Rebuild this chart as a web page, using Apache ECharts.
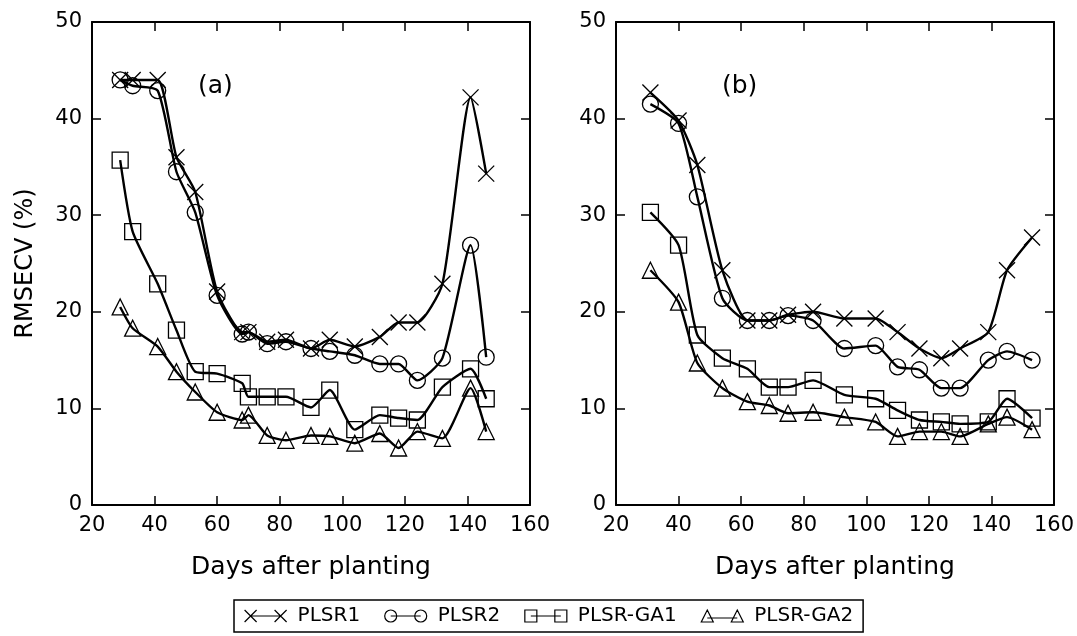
<!DOCTYPE html>
<html>
<head>
<meta charset="utf-8">
<script src="https://cdn.jsdelivr.net/npm/echarts@6/dist/echarts.min.js"></script>
<style>
  html, body { margin: 0; padding: 0; background: #fff; }
  #chart { width: 1077px; height: 636px; }
</style>
</head>
<body>
<div id="chart"></div>
<script>
// 数据 (a)
const daysA = [29, 33, 41, 47, 53, 60, 68, 70, 76, 82, 90, 96, 104, 112, 118, 124, 132, 141, 146];
const aPLSR1 = [44.0, 44.0, 44.0, 36.0, 32.4, 22.1, 17.9, 17.9, 16.9, 17.1, 16.2, 17.1, 16.4, 17.4, 18.9, 18.9, 22.9, 42.2, 34.3];
const aPLSR2 = [44.0, 43.4, 42.9, 34.5, 30.3, 21.7, 17.7, 17.9, 16.7, 16.9, 16.2, 15.9, 15.5, 14.6, 14.6, 12.9, 15.2, 26.9, 15.3];
const aGA1 = [35.7, 28.3, 22.9, 18.1, 13.8, 13.6, 12.6, 11.2, 11.2, 11.2, 10.1, 11.9, 7.8, 9.3, 9.0, 8.8, 12.2, 14.1, 11.0];
const aGA2 = [20.5, 18.3, 16.4, 13.8, 11.7, 9.6, 8.8, 9.3, 7.2, 6.7, 7.2, 7.1, 6.4, 7.4, 5.9, 7.6, 6.9, 12.1, 7.6];

// 数据 (b)
const daysB = [31, 40, 46, 54, 62, 69, 75, 83, 93, 103, 110, 117, 124, 130, 139, 145, 153];
const bPLSR1 = [42.7, 39.8, 35.2, 24.3, 19.1, 19.1, 19.7, 20.0, 19.3, 19.3, 17.9, 16.2, 15.2, 16.2, 17.9, 24.3, 27.7];
const bPLSR2 = [41.5, 39.5, 31.9, 21.4, 19.1, 19.1, 19.6, 19.1, 16.2, 16.5, 14.3, 14.0, 12.1, 12.1, 15.0, 15.9, 15.0];
const bGA1 = [30.3, 26.9, 17.6, 15.2, 14.1, 12.2, 12.2, 12.9, 11.4, 11.0, 9.8, 8.8, 8.6, 8.4, 8.6, 11.0, 9.0];
const bGA2 = [24.3, 21.0, 14.7, 12.1, 10.7, 10.3, 9.5, 9.6, 9.1, 8.6, 7.1, 7.6, 7.6, 7.1, 8.4, 9.1, 7.8];

const seriesNames = ["PLSR1", "PLSR2", "PLSR-GA1", "PLSR-GA2"];
const xTicks = { min: 20, max: 160, interval: 20 };
const yTicks = { min: 0, max: 50, interval: 10 };

const FONT = "DejaVu Sans";
const symbols = [
    "path://M0,0L10,10M0,10L10,0",
    "circle",
    "rect",
    "triangle",
];
// 图例图标: 两个标记 + 连线
const legendIcons = [
    "path://M0,0L12,12M0,12L12,0M6,6L36,6M30,0L42,12M30,12L42,0",
    "path://M0,6A6,6 0 1 1 12,6A6,6 0 1 1 0,6ZM6,6L36,6M30,6A6,6 0 1 1 42,6A6,6 0 1 1 30,6Z",
    "path://M0,0L12,0L12,12L0,12ZM6,6L36,6M30,0L42,0L42,12L30,12Z",
    "path://M6,0L12,12L0,12ZM6,8L36,8M36,0L42,12L30,12Z",
];

const grids = [
    { left: 92, right: 547, top: 22, bottom: 131 },
    { left: 616, right: 23, top: 22, bottom: 131 },
];

const makeXAxis = (gridIndex, primary) => ({
    type: "value",
    gridIndex: gridIndex,
    position: primary ? "bottom" : "top",
    min: xTicks.min,
    max: xTicks.max,
    interval: xTicks.interval,
    name: primary ? "Days after planting" : "",
    nameLocation: "middle",
    nameGap: 50,
    nameTextStyle: { fontFamily: FONT, fontSize: 25, color: "#000" },
    axisLine: { show: true, onZero: false, lineStyle: { color: "#000", width: 2 } },
    axisTick: { show: true, inside: true, length: 9, lineStyle: { color: "#000", width: 1.5 } },
    axisLabel: { show: primary, fontFamily: FONT, fontSize: 21, color: "#000", margin: 10 },
    splitLine: { show: false },
});
const makeYAxis = (gridIndex, primary, withName) => ({
    type: "value",
    gridIndex: gridIndex,
    position: primary ? "left" : "right",
    min: yTicks.min,
    max: yTicks.max,
    interval: yTicks.interval,
    name: withName ? "RMSECV (%)" : "",
    nameLocation: "middle",
    nameGap: 54,
    nameTextStyle: { fontFamily: FONT, fontSize: 24, color: "#000" },
    axisLine: { show: true, onZero: false, lineStyle: { color: "#000", width: 2 } },
    axisTick: { show: true, inside: true, length: 9, lineStyle: { color: "#000", width: 1.5 } },
    axisLabel: { show: primary, fontFamily: FONT, fontSize: 21, color: "#000", margin: 10 },
    splitLine: { show: false },
});

const zip = (xs, ys) => xs.map((x, i) => [x, ys[i]]);

const makeSeries = (name, idx, days, values, axisIndex) => ({
    name: name,
    type: "line",
    xAxisIndex: axisIndex,
    yAxisIndex: axisIndex,
    data: zip(days, values),
    smooth: 0.2,
    symbol: symbols[idx],
    symbolSize: 16,
    showAllSymbol: true,
    lineStyle: { color: "#000", width: 2.4 },
    itemStyle: { color: "rgba(0,0,0,0)", borderColor: "#000", borderWidth: 1.3 },
    emphasis: { disabled: true },
    z: 3,
});

const dataA = [aPLSR1, aPLSR2, aGA1, aGA2];
const dataB = [bPLSR1, bPLSR2, bGA1, bGA2];

let series = [];
seriesNames.forEach((n, i) => series.push(makeSeries(n, i, daysA, dataA[i], 0)));
seriesNames.forEach((n, i) => series.push(makeSeries(n, i, daysB, dataB[i], 2)));

const chart = echarts.init(document.getElementById("chart"), null, { renderer: "canvas" });
chart.setOption({
    animation: false,
    backgroundColor: "#fff",
    grid: grids,
    xAxis: [makeXAxis(0, true), makeXAxis(0, false), makeXAxis(1, true), makeXAxis(1, false)],
    yAxis: [makeYAxis(0, true, true), makeYAxis(0, false, false), makeYAxis(1, true, false), makeYAxis(1, false, false)],
    legend: {
        data: seriesNames.map((n, i) => ({ name: n, icon: legendIcons[i] })),
        left: 234,
        bottom: 4,
        itemWidth: 42,
        itemHeight: 12,
        itemGap: 24,
        padding: [6, 10],
        borderColor: "#000",
        borderWidth: 1.5,
        selectedMode: false,
        itemStyle: { color: "rgba(0,0,0,0)", borderColor: "#000", borderWidth: 1.2 },
        textStyle: { fontFamily: FONT, fontSize: 20, color: "#000", padding: [0, 0, 0, 6] },
    },
    graphic: [
        { type: "text", left: 198, top: 74, style: { text: "(a)", font: "25px 'DejaVu Sans'", fill: "#000" } },
        { type: "text", left: 722, top: 74, style: { text: "(b)", font: "25px 'DejaVu Sans'", fill: "#000" } },
    ],
    series: series,
});
</script>
</body>
</html>
